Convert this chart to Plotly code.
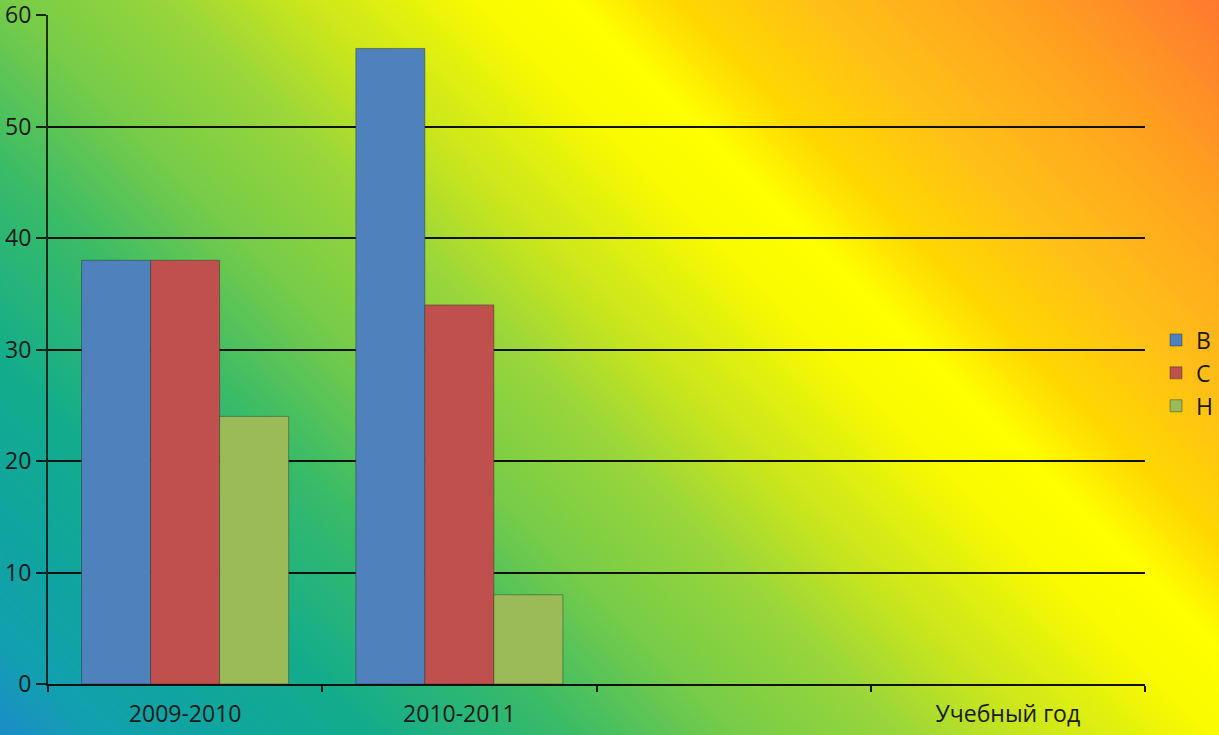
import numpy as np
import plotly.graph_objects as go

# ---- data ----
categories = ["2009-2010", "2010-2011", " ", "Учебный год"]
series_names = ["В", "С", "Н"]
values_B = [38, 57, None, None]
values_C = [38, 34, None, None]
values_H = [24, 8, None, None]
y_ticks = [0, 10, 20, 30, 40, 50, 60]

colors = ["#4f81bd", "#c0504d", "#9bbb59"]

W, H = 1219, 735

# ---- decorative background gradient (not data) ----
nx, ny = 61, 37
gx = np.linspace(0, W, nx)
gy = np.linspace(0, H, ny)
GX, GY = np.meshgrid(gx, gy)
T = (GX + GY) / (W + H)

grad_scale = [
    [0.00, "#1a8cc8"],
    [0.05, "#12a0b0"],
    [0.11, "#10a4a0"],
    [0.19, "#12ac8c"],
    [0.29, "#38bb68"],
    [0.38, "#78cc48"],
    [0.46, "#98d63a"],
    [0.52, "#c4e420"],
    [0.62, "#fafa00"],
    [0.67, "#ffff00"],
    [0.72, "#ffd800"],
    [0.80, "#ffbe18"],
    [0.90, "#ffa020"],
    [1.00, "#ff7830"],
]

fig = go.Figure()
fig.add_trace(go.Heatmap(
    x=gx, y=gy, z=T, colorscale=grad_scale, zmin=0, zmax=1,
    zsmooth="best", showscale=False, hoverinfo="skip",
    xaxis="x", yaxis="y", showlegend=False,
))

for name, vals, col in zip(series_names, [values_B, values_C, values_H], colors):
    fig.add_trace(go.Bar(
        name=name, x=categories, y=vals,
        marker=dict(color=col, line=dict(color="rgba(40,50,40,0.45)", width=1)),
        xaxis="x2", yaxis="y2",
    ))

font_family = "Open Sans, DejaVu Sans, sans-serif"
text_col = "#1a1a1a"
fs = 23

x0, x1 = 48 / W, 1145 / W
y0, y1 = 1 - 684 / H, 1 - 15 / H

fig.update_layout(
    width=W, height=H,
    margin=dict(l=0, r=0, t=0, b=0, autoexpand=False),
    paper_bgcolor="#88cc44",
    plot_bgcolor="rgba(0,0,0,0)",
    font=dict(family=font_family, size=fs, color=text_col),
    barmode="group", bargap=0.245, bargroupgap=0,
    xaxis=dict(domain=[0, 1], range=[0, W], visible=False, fixedrange=True),
    yaxis=dict(domain=[0, 1], range=[0, H], visible=False, fixedrange=True),
    xaxis2=dict(
        domain=[x0, x1], anchor="y2", type="category",
        categoryorder="array", categoryarray=categories,
        range=[-0.5, 3.5], tickson="boundaries",
        ticks="outside", ticklen=6, tickwidth=2, tickcolor="#111",
        ticklabelstandoff=8, ticklabeloverflow="allow",
        showline=True, linecolor="#111", linewidth=2,
        showgrid=False, tickfont=dict(size=fs, color=text_col),
    ),
    yaxis2=dict(
        domain=[y0, y1], anchor="x2", range=[0, 60],
        tickvals=y_ticks, ticks="outside", ticklen=10, tickwidth=2,
        tickcolor="rgba(0,0,0,0.8)", ticklabeloverflow="allow",
        showline=True, linecolor="rgba(0,0,0,0.75)", linewidth=2,
        showgrid=True, gridcolor="#111", gridwidth=1.5,
        zeroline=False, tickfont=dict(size=fs, color=text_col),
    ),
    legend=dict(
        x=1156 / W, xanchor="left", y=1 - 373 / H, yanchor="middle",
        bgcolor="rgba(0,0,0,0)", font=dict(size=fs, color=text_col),
        tracegroupgap=0, itemwidth=30,
    ),
    showlegend=True,
)

fig.write_html("out.html", config={"displayModeBar": False},
               post_script="document.body.style.margin='0';")
